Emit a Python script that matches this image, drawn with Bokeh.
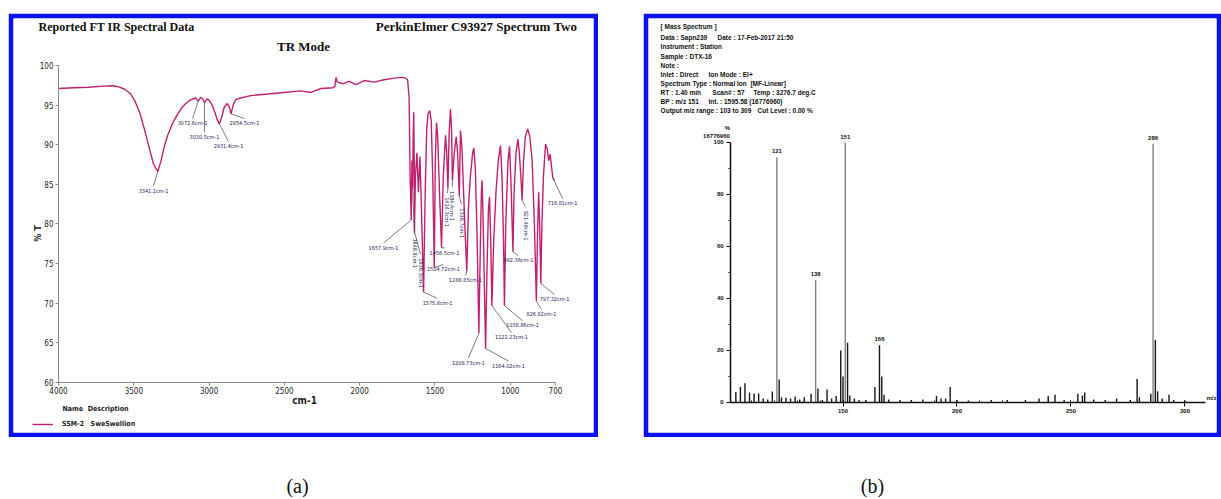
import numpy as np
from bokeh.plotting import figure
from bokeh.models import Range1d, FixedTicker, Label, Legend, LegendItem, Spacer
from bokeh.layouts import column, row
from bokeh.embed import file_html
from bokeh.resources import INLINE
from bokeh.core.validation import silence
from bokeh.core.validation.warnings import MISSING_RENDERERS

silence(MISSING_RENDERERS, True)

# ---------------- (a) FT-IR spectrum ----------------
IR_WN = [4000, 3900, 3800, 3700, 3640, 3600, 3560, 3520, 3490, 3460, 3430, 3400, 3370, 3341.1,
         3320, 3300, 3275, 3240, 3208, 3180, 3150, 3120, 3090, 3072.6, 3055, 3042, 3030.5, 3015,
         2998, 2980, 2960, 2945, 2931.4, 2915, 2900, 2880, 2866, 2854.5, 2840, 2823, 2790, 2723,
         2610, 2503, 2390, 2323, 2257, 2177, 2165, 2157, 2148, 2110, 2070, 2024, 1970, 1904, 1838,
         1771, 1720, 1695, 1682,
         1672, 1665, 1657.9, 1653, 1648.8, 1645, 1641, 1638, 1636.3, 1630, 1620, 1610, 1600, 1590,
         1575.8, 1565, 1555, 1545, 1535, 1525, 1515, 1504.72, 1498, 1490, 1482, 1470, 1456.5, 1445,
         1430, 1422, 1414.3, 1406, 1397, 1390, 1384.4, 1372, 1359, 1350, 1338.7, 1331, 1322, 1310,
         1300, 1288.85, 1278, 1265, 1250, 1242, 1232, 1220, 1208.73, 1200, 1192, 1187, 1180, 1172,
         1164.02, 1155, 1145, 1138, 1130, 1122.23, 1110, 1095, 1080, 1065, 1055, 1045, 1038.86,
         1030, 1015, 1005, 995, 982.36, 975, 962, 950, 940, 930, 921.48, 912, 900, 884, 870, 855,
         840, 826.82, 820, 812, 805, 797.32, 790, 780, 766, 755, 745, 735, 725, 716.81, 708]
IR_T = [97.1, 97.2, 97.25, 97.4, 97.45, 97.3, 97.0, 96.4, 95.4, 94.0, 92.0, 89.8, 87.6, 86.6,
        87.9, 89.6, 91.2, 92.8, 93.9, 94.7, 95.3, 95.7, 95.9, 95.5, 96.0, 95.8, 95.3, 95.8,
        95.6, 95.0, 94.0, 93.1, 92.6, 93.6, 94.7, 95.2, 94.8, 93.9, 95.0, 95.7, 95.9, 96.2,
        96.4, 96.6, 96.8, 96.6, 97.1, 97.2, 97.4, 98.5, 97.9, 97.7, 98.0, 97.6, 98.1, 97.9, 98.2,
        98.4, 98.5, 98.4, 98.2,
        96.0, 86.0, 80.5, 88.0, 84.5, 91.0, 94.1, 88.0, 79.0, 86.0, 89.0, 84.0, 88.5, 82.0,
        71.4, 84.0, 92.0, 94.0, 94.3, 93.0, 86.0, 74.5, 88.0, 92.8, 91.0, 84.0, 77.0, 86.0,
        91.2, 89.0, 84.5, 91.5, 94.5, 92.0, 85.5, 89.0, 91.0, 89.0, 83.5, 91.8, 90.0, 84.0,
        79.0, 74.0, 82.0, 86.0, 89.0, 89.6, 87.0, 78.0, 66.2, 76.0, 84.0, 85.5, 80.0, 72.0,
        64.3, 74.0, 82.0, 83.4, 78.0, 69.7, 78.0, 84.0, 88.0, 89.9, 86.0, 78.0, 69.7,
        80.0, 88.0, 89.8, 85.0, 76.5, 84.0, 89.0, 90.7, 89.0, 86.0, 83.0, 88.0, 91.0, 92.0, 91.0, 88.0,
        80.0, 70.3, 78.0, 84.0, 80.0, 72.5, 80.0, 86.0, 90.1, 89.5, 88.0, 88.8, 87.0, 85.8, 85.5]

IR_PEAK_WN = [3341.1, 3072.6, 3030.5, 2931.4, 2854.5, 1657.9, 1648.8, 1636.3, 1575.8, 1504.72,
              1456.5, 1414.3, 1384.4, 1338.7, 1288.85, 1208.73, 1164.02, 1122.23, 1038.86,
              982.36, 921.48, 826.82, 797.32, 716.81]
IR_PEAK_TEXT = ["3341.1cm-1", "3072.6cm-1", "3030.5cm-1", "2931.4cm-1", "2854.5cm-1",
                "1657.9cm-1", "1648.8cm-1", "1636.3cm-1", "1575.8cm-1", "1504.72cm-1",
                "1456.5cm-1", "1414.3cm-1", "1384.4cm-1", "1338.7cm-1", "1288.85cm-1",
                "1208.73cm-1", "1164.02cm-1", "1122.23cm-1", "1038.86cm-1", "982.36cm-1",
                "921.48cm-1", "826.82cm-1", "797.32cm-1", "716.81cm-1"]
# label placement (wavenumber, %T, vertical?)
IR_LABEL_POS = [(3369, 84.2, 0), (3110, 92.7, 0), (3031, 91.0, 0), (2871, 89.8, 0), (2765, 92.7, 0),
                (1842, 77.0, 0), (1636, 76.3, 1), (1596, 73.8, 1), (1483, 70.0, 0), (1444, 74.3, 0),
                (1437, 76.4, 0), (1417, 81.5, 1), (1384, 82.3, 1), (1324, 80.1, 1), (1297, 72.9, 0),
                (1278, 62.5, 0), (1012, 62.1, 0), (992, 65.7, 0), (919, 67.2, 0), (946, 75.4, 0),
                (899, 79.8, 1), (793, 68.6, 0), (706, 70.5, 0), (653, 82.6, 0)]

IR_X_TICKS = [4000, 3500, 3000, 2500, 2000, 1500, 1000, 700]
IR_Y_TICKS = [60, 65, 70, 75, 80, 85, 90, 95, 100]

# ---------------- (b) mass spectrum ----------------
MS_MZ = [103, 105, 107, 109, 111, 113, 115, 117, 119, 121, 122, 123, 125, 127, 129, 131, 133,
         136, 138, 139, 141, 143, 145, 147, 149, 150, 151, 152, 153, 155, 157, 160, 164, 166,
         167, 168, 170, 175, 180, 185, 191, 193, 195, 197, 200, 205, 215, 222, 230, 236, 240,
         243, 247, 253, 255, 256, 260, 265, 270, 276, 279, 280, 285, 286, 287, 288, 290, 293,
         295, 300]
MS_INT = [4.0, 6.0, 7.4, 3.8, 3.5, 3.5, 1.5, 1.2, 4.2, 94.3, 8.8, 2.0, 1.8, 1.5, 2.3, 1.2, 2.0,
          3.4, 47.0, 5.4, 1.0, 5.0, 1.5, 2.5, 20.0, 10.0, 100.0, 23.0, 2.7, 1.5, 1.0, 1.0, 6.0, 22.0,
          10.0, 3.0, 1.2, 1.0, 1.0, 1.2, 2.5, 1.5, 1.5, 6.0, 1.0, 0.8, 1.0, 1.0, 1.0, 1.5, 2.5,
          3.0, 1.0, 3.4, 2.7, 3.8, 1.2, 1.0, 1.5, 1.0, 9.0, 2.0, 3.4, 99.5, 24.0, 4.3, 1.5, 3.0,
          1.0, 0.8]
MS_LABEL_MZ = [121, 138, 151, 166, 286]
MS_X_TICKS = [150, 200, 250, 300]
MS_Y_TICKS = [0, 20, 40, 60, 80, 100]

MS_HEADER = [
    ["[ Mass Spectrum ]"],
    ["Data : Sapn239", "Date : 17-Feb-2017 21:50"],
    ["Instrument : Station"],
    ["Sample : DTX-16"],
    ["Note :"],
    ["Inlet : Direct", "Ion Mode : EI+"],
    ["Spectrum Type : Normal Ion  [MF-Linear]"],
    ["RT : 1.40 min", "Scan# : 57", "Temp : 3276.7 deg.C"],
    ["BP : m/z 151", "Int. : 1595.58 (16776960)"],
    ["Output m/z range : 103 to 309", "Cut Level : 0.00 %"],
]
# positions of the header columns (m/z units of the panel) and rows (% units)
MS_HEADER_X = [[70.0], [70.0, 94.96], [70.0], [70.0], [70.0], [70.0, 90.99], [70.0],
               [70.0, 92.7, 110.7], [70.0, 90.99], [70.0, 112.5]]
MS_HEADER_Y = [144.6, 140.4, 136.9, 133.1, 129.6, 126.2, 122.7, 119.2, 115.8, 112.3]

BLUE = "#0b12f2"
IR_COLOR = "#c0206e"
NARROW = "Liberation Sans Narrow, DejaVu Sans Condensed, Liberation Sans, sans-serif"
SANS = "Liberation Sans"
SERIF = "Liberation Serif"
NB = "\u00a0"


def lab(p, x, y, text, font=SANS, size="6px", style="normal", color="#111111",
        align="left", baseline="middle", angle=0):
    p.add_layout(Label(x=x, y=y, text=text, text_font=font, text_font_size=size,
                       text_font_style=style, text_color=color, text_align=align,
                       text_baseline=baseline, angle=angle))


# ======== panel (a) ========
pA = figure(width=590, height=424, x_range=Range1d(4298.8, 447.5), y_range=Range1d(53.69, 105.93),
            output_backend="svg", toolbar_location=None, title=None, min_border=5)
pA.border_fill_color = BLUE
pA.background_fill_color = "white"
pA.grid.visible = False
pA.outline_line_color = None
for ax in (pA.xaxis[0], pA.yaxis[0]):
    ax.axis_line_color = "#8a8a8a"
    ax.major_tick_line_color = "#8a8a8a"
    ax.major_tick_out = 3
    ax.major_tick_in = 0
    ax.minor_tick_line_color = None
    ax.major_label_text_font = NARROW
    ax.major_label_text_font_size = "8px"
    ax.major_label_text_color = "#222222"
    ax.major_label_standoff = 2
pA.xaxis.ticker = FixedTicker(ticks=IR_X_TICKS)
pA.yaxis.ticker = FixedTicker(ticks=IR_Y_TICKS)
pA.xaxis.fixed_location = 60
pA.yaxis.fixed_location = 4000
pA.xaxis.bounds = (700, 4000)
pA.yaxis.bounds = (60, 100)

spec = pA.line(IR_WN, IR_T, line_color=IR_COLOR, line_width=1.4)

t_min = np.interp(IR_PEAK_WN, IR_WN[::-1], IR_T[::-1])
lx, ly = [], []
for (wx, wy, vert), tm in zip(IR_LABEL_POS, t_min):
    d = 2.4 if vert else 0.6
    lx.append(wx)
    ly.append(wy + d if wy < tm else wy - d)
pA.segment(x0=IR_PEAK_WN, y0=t_min, x1=lx, y1=ly, line_color="#444444", line_width=0.7)
for txt, (wx, wy, vert) in zip(IR_PEAK_TEXT, IR_LABEL_POS):
    lab(pA, wx, wy, txt, font=NARROW, size="5.5px", color="#1b1b55", align="center",
        angle=(-np.pi / 2 if vert else 0))

lab(pA, 4133, 104.9, "Reported FT IR Spectral Data", font=SERIF, size="12px", style="bold")
lab(pA, 554, 104.9, "PerkinElmer C93927 Spectrum Two", font=SERIF, size="13px", style="bold",
    align="right")
lab(pA, 2373, 102.4, "TR Mode", font=SERIF, size="13px", style="bold", align="center")
lab(pA, 4139, 78.8, "% T", font=NARROW, size="9px", style="bold", color="#222222",
    align="center", angle=np.pi / 2)
lab(pA, 2366, 57.7, "cm-1", font=NARROW, size="10px", style="bold", color="#222222",
    align="center")
lab(pA, 3973, 56.6, "Name", font=NARROW, size="7px", style="bold", color="#222222")
lab(pA, 3806, 56.6, "Description", font=NARROW, size="7px", style="bold", color="#222222")
leg = Legend(items=[LegendItem(label="SSM-2" + NB * 3 + "SweSwellion", renderers=[spec])],
             location=(19, 4), padding=0, margin=0, glyph_width=21, glyph_height=8,
             label_standoff=9, label_text_font=NARROW, label_text_font_size="7px",
             label_text_font_style="bold", label_text_color="#222222",
             background_fill_alpha=0, border_line_color=None)
pA.add_layout(leg)

# ======== panel (b) ========
pB = figure(width=578, height=424, x_range=Range1d(64.69, 313.82), y_range=Range1d(-11.54, 147.69),
            output_backend="svg", toolbar_location=None, title=None, min_border=5)
pB.border_fill_color = BLUE
pB.background_fill_color = "white"
pB.grid.visible = False
pB.outline_line_color = None
for ax in (pB.xaxis[0], pB.yaxis[0]):
    ax.axis_line_color = "#111111"
    ax.axis_line_width = 1.5
    ax.major_tick_line_color = "#111111"
    ax.minor_tick_line_color = "#111111"
    ax.major_label_text_font = SANS
    ax.major_label_text_font_size = "6px"
    ax.major_label_text_font_style = "bold"
    ax.major_label_text_color = "#111111"
    ax.major_label_standoff = 3
pB.xaxis.ticker = FixedTicker(ticks=MS_X_TICKS, minor_ticks=list(range(110, 306, 10)))
pB.yaxis.ticker = FixedTicker(ticks=MS_Y_TICKS, minor_ticks=[10, 30, 50, 70, 90])
pB.xaxis.fixed_location = 0
pB.yaxis.fixed_location = 100.7
pB.xaxis.bounds = (100.7, 309)
pB.yaxis.bounds = (0, 100)
pB.xaxis.major_tick_out = 4
pB.xaxis.major_tick_in = 2
pB.xaxis.minor_tick_in = 2
pB.xaxis.minor_tick_out = 0
pB.yaxis.major_tick_out = 4
pB.yaxis.major_tick_in = 0
pB.yaxis.minor_tick_out = 2
pB.yaxis.minor_tick_in = 0

bar_col = ["#808080" if v > 30 else "#161616" for v in MS_INT]
pB.segment(x0=MS_MZ, y0=[0] * len(MS_MZ), x1=MS_MZ, y1=MS_INT, line_color=bar_col, line_width=1.4)
for mz in MS_LABEL_MZ:
    h = MS_INT[MS_MZ.index(mz)]
    lab(pB, mz, h + 1.5, str(mz), size="6px", style="bold", align="center", baseline="bottom")

for parts, xs, yy in zip(MS_HEADER, MS_HEADER_X, MS_HEADER_Y):
    for t, xx in zip(parts, xs):
        lab(pB, xx, yy, t.replace("  ", NB * 2), size="6.5px", style="bold")
lab(pB, 99.3, 105.6, "%", size="6px", style="bold", align="center")
lab(pB, 94.5, 102.4, "16776960", size="6px", style="bold", align="center")
lab(pB, 309.4, 1.8, "m/z", size="6px", style="bold")

# ======== captions ========
pL = figure(width=1221, height=60, x_range=Range1d(0, 1221), y_range=Range1d(60, 0),
            output_backend="svg", toolbar_location=None, title=None, min_border=0)
pL.axis.visible = False
pL.grid.visible = False
pL.outline_line_color = None
pL.border_fill_color = None
pL.background_fill_color = None
for cx, cap in [(297, "(a)"), (872, "(b)")]:
    lab(pL, cx, 48, cap, font=SERIF, size="20px", align="center")

layout = column(Spacer(height=13), row(Spacer(width=8), pA, Spacer(width=45), pB), pL)
open("out.html", "w").write(file_html(layout, INLINE))
